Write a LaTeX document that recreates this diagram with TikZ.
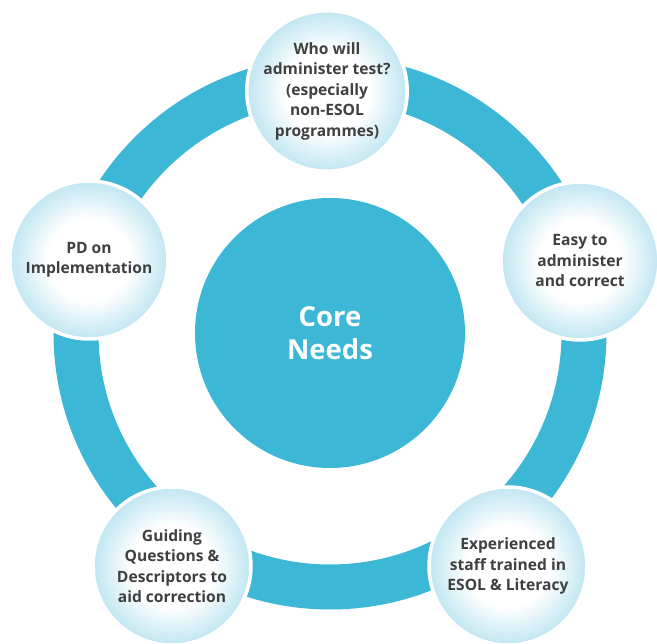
\documentclass[tikz,border=0pt]{standalone}
\usepackage{fontspec}
\setmainfont{Open Sans}
\definecolor{ringblue}{RGB}{60,183,214}
\definecolor{bubblemid}{RGB}{192,230,242}
\definecolor{bubbleedge}{RGB}{98,189,218}
\definecolor{labelgray}{RGB}{64,64,64}
\pgfdeclareradialshading{bubbleshade}{\pgfpoint{0bp}{0bp}}{%
  color(0bp)=(white); color(13bp)=(white); color(25bp)=(bubblemid);
  color(34bp)=(bubbleedge); color(50bp)=(bubbleedge)}
\tikzset{
  bubble/.style={circle, minimum size=158pt, inner sep=0pt,
    shading=bubbleshade, draw=white, line width=3.5pt,
    text=labelgray, align=center,
    font=\fontsize{15.6pt}{20.5pt}\selectfont\bfseries},
  corenode/.style={circle, fill=ringblue, minimum size=270pt, inner sep=0pt,
    text=white, align=center,
    font=\fontsize{27.5pt}{33pt}\selectfont\bfseries},
}
\begin{document}
\begin{tikzpicture}[x=1pt,y=-1pt]
\useasboundingbox (0,0) rectangle (657,644);
\clip (0,0) rectangle (657,644);
\fill[white] (0,0) rectangle (657,644);
% central hub
\node[corenode] (core) at (330,333) {Core\\Needs};
% outer ring joining the five topics
\draw[ringblue, line width=45pt] (core.center) circle (254);
% topic bubbles
\node[bubble] (who)  at (327,91)  {Who will\\administer test?\\(especially\\non-ESOL\\programmes)};
\node[bubble] (easy) at (580,261) {Easy to\\administer\\and correct};
\node[bubble] (staff) at (508,566) {Experienced\\staff trained in\\ESOL \& Literacy};
\node[bubble] (guide) at (172,566) {Guiding\\Questions \&\\Descriptors to\\aid correction};
\node[bubble] (pd)   at (89,260)  {PD on\\Implementation};
\end{tikzpicture}
\end{document}
